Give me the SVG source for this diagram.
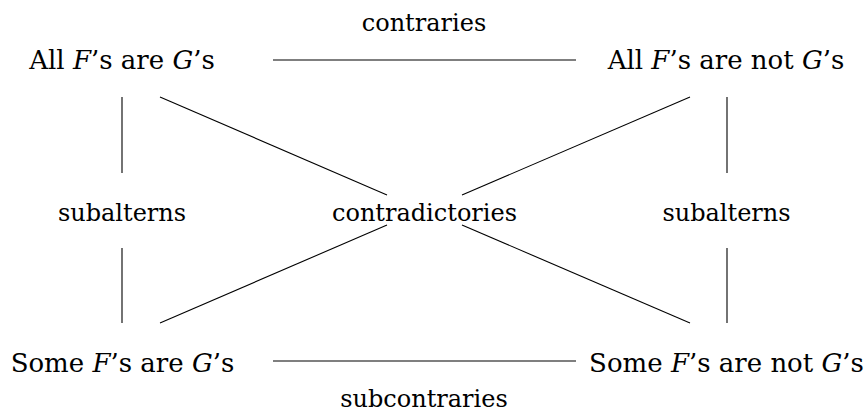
<svg xmlns="http://www.w3.org/2000/svg" width="864" height="412" viewBox="0 0 864 412">
<style>
.t{font-family:'DejaVu Serif',serif;font-size:26px;fill:#000;text-anchor:middle}
.l{font-size:24px}
.i{font-style:italic}
.c line{stroke:#000;stroke-width:1.1;fill:none}
</style>
<rect width="864" height="412" fill="#fff"/>
<g id="A"><text class="t" x="122" y="69">All <tspan class="i">F</tspan>’s are <tspan class="i">G</tspan>’s</text></g>
<g id="E"><text class="t" x="726" y="69">All <tspan class="i">F</tspan>’s are not <tspan class="i">G</tspan>’s</text></g>
<g id="I"><text class="t" x="122.5" y="372">Some <tspan class="i">F</tspan>’s are <tspan class="i">G</tspan>’s</text></g>
<g id="O"><text class="t" x="726.5" y="372">Some <tspan class="i">F</tspan>’s are not <tspan class="i">G</tspan>’s</text></g>
<g id="labels">
<text class="t l" x="424" y="31">contraries</text>
<text class="t l" x="122" y="221">subalterns</text>
<text class="t l" x="424.5" y="221">contradictories</text>
<text class="t l" x="726.5" y="221">subalterns</text>
<text class="t l" x="424" y="407">subcontraries</text>
</g>
<g id="connectors" class="c">
<line x1="273" y1="60" x2="576" y2="60"/>
<line x1="273" y1="361" x2="576" y2="361"/>
<line x1="122" y1="97" x2="122" y2="173"/>
<line x1="122" y1="248" x2="122" y2="323"/>
<line x1="727" y1="97" x2="727" y2="173"/>
<line x1="727" y1="248" x2="727" y2="323"/>
<line x1="160" y1="97" x2="387" y2="195"/>
<line x1="690" y1="97" x2="462" y2="195"/>
<line x1="160" y1="323" x2="387" y2="225"/>
<line x1="462" y1="225" x2="690" y2="323"/>
</g>
</svg>
